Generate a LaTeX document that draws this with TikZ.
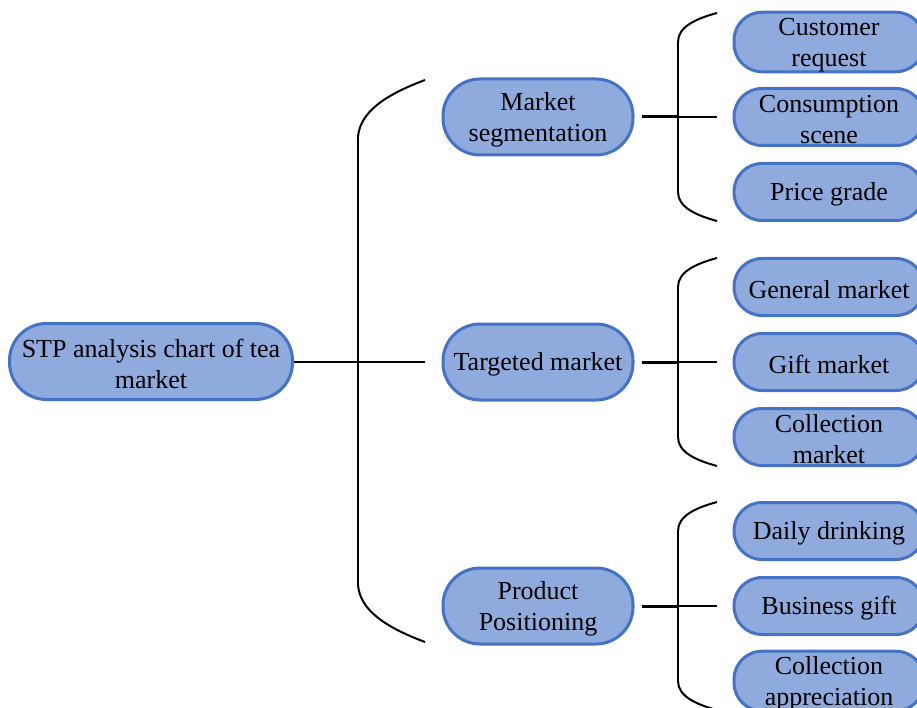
\documentclass[tikz,border=0pt]{standalone}
\usepackage{fontspec}
\setmainfont{Liberation Serif}
\usetikzlibrary{calc}
\definecolor{boxfill}{HTML}{8FAADC}
\definecolor{boxline}{HTML}{4472C4}
\newcommand\tup{\rule{0pt}{23pt}}
\begin{document}
\begin{tikzpicture}[x=1pt,y=-1pt,
  bigbox/.style={draw=boxline, fill=boxfill, line width=3pt, rounded corners=37pt,
    minimum height=76pt, inner sep=0pt, align=center,
    font=\fontsize{26}{31}\selectfont},
  smallbox/.style={draw=boxline, fill=boxfill, line width=3pt, rounded corners=28pt,
    minimum width=190pt, minimum height=57pt, inner sep=0pt, align=center,
    font=\fontsize{26}{31}\selectfont},
  conn/.style={line width=2pt, black},
  thickconn/.style={line width=3pt, black}]
\useasboundingbox (0,0) rectangle (917,708);
% nodes
\node[bigbox, minimum width=283pt] (root) at (151,361.5) {\tup STP analysis chart of tea\\market};
\node[bigbox, minimum width=190pt] (ms) at (538,117) {\tup Market\\segmentation};
\node[bigbox, minimum width=190pt] (tm) at (538,362) {\tup Targeted market};
\node[bigbox, minimum width=190pt] (pp) at (538,606) {\tup Product\\Positioning};
\node[smallbox] (c1) at (829,42) {\tup Customer\\request};
\node[smallbox] (c2) at (829,117) {\tup Consumption\\scene};
\node[smallbox] (c3) at (829,192) {\tup Price grade};
\node[smallbox] (t1) at (829,287) {\tup General market};
\node[smallbox] (t2) at (829,362) {\tup Gift market};
\node[smallbox] (t3) at (829,437) {\tup Collection\\market};
\node[smallbox] (p1) at (829,531) {\tup Daily drinking};
\node[smallbox] (p2) at (829,606) {\tup Business gift};
\node[smallbox] (p3) at (829,681) {\tup Collection\\appreciation};
% main bracket
\coordinate (bt) at (358,137);
\coordinate (bb) at (358,585);
\coordinate (et) at (425,80);
\coordinate (eb) at (425,642);
\coordinate (em) at (425,361.5);
\draw[conn] (root.east) -- (em);
\draw[conn] (bt) -- (bb);
\draw[conn] (bt) .. controls (360,112) and (385,95) .. (et);
\draw[conn] (bb) .. controls (360,610) and (385,627) .. (eb);
% sub brackets
\foreach \n/\y in {ms/117, tm/362, pp/606}{
  \coordinate (\n-b) at (678,\y);
  \coordinate (\n-e) at (717,\y);
  \coordinate (\n-bt) at (678,\y-75);
  \coordinate (\n-bb) at (678,\y+75);
  \coordinate (\n-et) at (717,\y-104);
  \coordinate (\n-eb) at (717,\y+104);
  \draw[thickconn] ($(\n.east)+(7,0)$) -- (\n-b);
  \draw[conn] (\n-b) -- (\n-e);
  \draw[conn] (\n-bt) -- (\n-bb);
  \draw[conn] (\n-bt) .. controls (678,\y-90) and (695,\y-98) .. (\n-et);
  \draw[conn] (\n-bb) .. controls (678,\y+90) and (695,\y+98) .. (\n-eb);
}
\end{tikzpicture}
\end{document}
